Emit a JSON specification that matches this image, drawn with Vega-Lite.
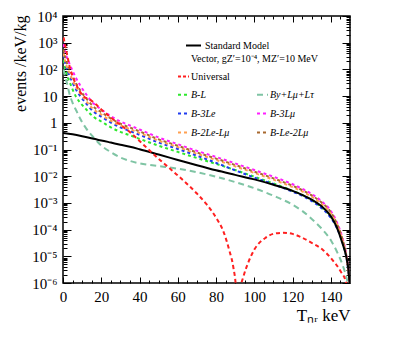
{
  "$schema": "https://vega.github.io/schema/vega-lite/v6.json",
  "width": 287,
  "height": 267,
  "autosize": {"type": "none"},
  "padding": {"left": 63, "top": 16, "right": 49, "bottom": 55},
  "background": "white",
  "config": {
    "view": {"stroke": "black", "strokeWidth": 1.5},
    "font": "Liberation Serif",
    "axis": {"domain": false, "grid": false, "tickColor": "black", "tickWidth": 1, "labelFont": "Liberation Serif", "labelColor": "black", "titleFont": "Liberation Serif", "titleColor": "black", "titleFontWeight": "normal"},
    "legend": {"labelFont": "Liberation Serif", "labelColor": "black", "labelFontSize": 10, "titleFont": "Liberation Serif", "titleColor": "black", "titleFontWeight": "normal", "titleFontSize": 10, "symbolType": "stroke", "symbolStrokeWidth": 2, "labelOffset": 1}
  },
  "datasets": {
    "sm": [
      {"series": "Standard Model", "T": 0, "rate": 0.417},
      {"series": "Standard Model", "T": 5, "rate": 0.372},
      {"series": "Standard Model", "T": 10, "rate": 0.316},
      {"series": "Standard Model", "T": 16, "rate": 0.251},
      {"series": "Standard Model", "T": 20, "rate": 0.219},
      {"series": "Standard Model", "T": 25, "rate": 0.182},
      {"series": "Standard Model", "T": 30, "rate": 0.151},
      {"series": "Standard Model", "T": 35, "rate": 0.126},
      {"series": "Standard Model", "T": 40, "rate": 0.102},
      {"series": "Standard Model", "T": 50, "rate": 0.0646},
      {"series": "Standard Model", "T": 60, "rate": 0.0407},
      {"series": "Standard Model", "T": 70, "rate": 0.0257},
      {"series": "Standard Model", "T": 80, "rate": 0.0166},
      {"series": "Standard Model", "T": 90, "rate": 0.0112},
      {"series": "Standard Model", "T": 100, "rate": 0.00759},
      {"series": "Standard Model", "T": 110, "rate": 0.00479},
      {"series": "Standard Model", "T": 120, "rate": 0.00282},
      {"series": "Standard Model", "T": 125, "rate": 0.002},
      {"series": "Standard Model", "T": 130, "rate": 0.00132},
      {"series": "Standard Model", "T": 135, "rate": 0.000759},
      {"series": "Standard Model", "T": 140, "rate": 0.000316},
      {"series": "Standard Model", "T": 143, "rate": 0.000126},
      {"series": "Standard Model", "T": 146, "rate": 3.16e-5},
      {"series": "Standard Model", "T": 148, "rate": 1e-5},
      {"series": "Standard Model", "T": 149, "rate": 3.98e-6},
      {"series": "Standard Model", "T": 149.8, "rate": 1e-6}
    ],
    "universal": [
      {"series": "Universal", "T": 0.3, "rate": 1580},
      {"series": "Universal", "T": 1, "rate": 891},
      {"series": "Universal", "T": 2, "rate": 398},
      {"series": "Universal", "T": 3.5, "rate": 126},
      {"series": "Universal", "T": 5, "rate": 56.2},
      {"series": "Universal", "T": 7, "rate": 26.3},
      {"series": "Universal", "T": 9, "rate": 14.1},
      {"series": "Universal", "T": 11, "rate": 9.55},
      {"series": "Universal", "T": 13, "rate": 7.94},
      {"series": "Universal", "T": 15, "rate": 6.61},
      {"series": "Universal", "T": 17, "rate": 5.01},
      {"series": "Universal", "T": 20, "rate": 3.16},
      {"series": "Universal", "T": 25, "rate": 1.58},
      {"series": "Universal", "T": 30, "rate": 0.832},
      {"series": "Universal", "T": 35, "rate": 0.447},
      {"series": "Universal", "T": 40, "rate": 0.209},
      {"series": "Universal", "T": 45, "rate": 0.0955},
      {"series": "Universal", "T": 50, "rate": 0.0447},
      {"series": "Universal", "T": 55, "rate": 0.0219},
      {"series": "Universal", "T": 60, "rate": 0.0107},
      {"series": "Universal", "T": 65, "rate": 0.00501},
      {"series": "Universal", "T": 70, "rate": 0.00224},
      {"series": "Universal", "T": 75, "rate": 0.000891},
      {"series": "Universal", "T": 80, "rate": 0.000282},
      {"series": "Universal", "T": 84, "rate": 7.94e-5},
      {"series": "Universal", "T": 87, "rate": 1.58e-5},
      {"series": "Universal", "T": 89, "rate": 3.98e-6},
      {"series": "Universal", "T": 90.5, "rate": 5e-7},
      {"series": "Universal", "T": 91.5, "rate": 1e-8},
      {"series": "Universal", "T": 92.5, "rate": 5e-7},
      {"series": "Universal", "T": 94.3, "rate": 1.74e-6},
      {"series": "Universal", "T": 97, "rate": 6.3e-6},
      {"series": "Universal", "T": 100, "rate": 1.78e-5},
      {"series": "Universal", "T": 106, "rate": 5.01e-5},
      {"series": "Universal", "T": 111, "rate": 7.24e-5},
      {"series": "Universal", "T": 115, "rate": 7.59e-5},
      {"series": "Universal", "T": 120, "rate": 6.92e-5},
      {"series": "Universal", "T": 124, "rate": 5.37e-5},
      {"series": "Universal", "T": 130, "rate": 3.16e-5},
      {"series": "Universal", "T": 136, "rate": 1.7e-5},
      {"series": "Universal", "T": 141, "rate": 7.08e-6},
      {"series": "Universal", "T": 145, "rate": 2.82e-6},
      {"series": "Universal", "T": 148, "rate": 1e-6},
      {"series": "Universal", "T": 149, "rate": 3.2e-7}
    ],
    "bsm": [
      {"series": "B-L", "T": 0.3, "rate": 224}, {"series": "B-L", "T": 1, "rate": 120}, {"series": "B-L", "T": 2, "rate": 63.1}, {"series": "B-L", "T": 3.5, "rate": 33.1}, {"series": "B-L", "T": 5, "rate": 17.8}, {"series": "B-L", "T": 7, "rate": 8.91}, {"series": "B-L", "T": 9, "rate": 5.62}, {"series": "B-L", "T": 12, "rate": 3.24}, {"series": "B-L", "T": 16, "rate": 1.66}, {"series": "B-L", "T": 20, "rate": 1.12}, {"series": "B-L", "T": 25, "rate": 0.676}, {"series": "B-L", "T": 30, "rate": 0.457}, {"series": "B-L", "T": 35, "rate": 0.339}, {"series": "B-L", "T": 40, "rate": 0.251}, {"series": "B-L", "T": 50, "rate": 0.138}, {"series": "B-L", "T": 60, "rate": 0.0813}, {"series": "B-L", "T": 70, "rate": 0.0479}, {"series": "B-L", "T": 80, "rate": 0.0288}, {"series": "B-L", "T": 90, "rate": 0.017}, {"series": "B-L", "T": 100, "rate": 0.00955}, {"series": "B-L", "T": 110, "rate": 0.00537}, {"series": "B-L", "T": 120, "rate": 0.00282}, {"series": "B-L", "T": 125, "rate": 0.002}, {"series": "B-L", "T": 130, "rate": 0.00126}, {"series": "B-L", "T": 135, "rate": 0.000692}, {"series": "B-L", "T": 140, "rate": 0.000295}, {"series": "B-L", "T": 143, "rate": 0.000129}, {"series": "B-L", "T": 146, "rate": 3.63e-5}, {"series": "B-L", "T": 148, "rate": 1.02e-5}, {"series": "B-L", "T": 149, "rate": 3.5e-6}, {"series": "B-L", "T": 149.8, "rate": 1e-6},
      {"series": "By+Lμ+Lτ", "T": 0.3, "rate": 100}, {"series": "By+Lμ+Lτ", "T": 1, "rate": 56.2}, {"series": "By+Lμ+Lτ", "T": 2, "rate": 31.6}, {"series": "By+Lμ+Lτ", "T": 3.5, "rate": 11.2}, {"series": "By+Lμ+Lτ", "T": 5, "rate": 5.62}, {"series": "By+Lμ+Lτ", "T": 7, "rate": 2.82}, {"series": "By+Lμ+Lτ", "T": 9, "rate": 1.41}, {"series": "By+Lμ+Lτ", "T": 12, "rate": 0.631}, {"series": "By+Lμ+Lτ", "T": 16, "rate": 0.282}, {"series": "By+Lμ+Lτ", "T": 20, "rate": 0.141}, {"series": "By+Lμ+Lτ", "T": 25, "rate": 0.0794}, {"series": "By+Lμ+Lτ", "T": 30, "rate": 0.0501}, {"series": "By+Lμ+Lτ", "T": 35, "rate": 0.0372}, {"series": "By+Lμ+Lτ", "T": 40, "rate": 0.0302}, {"series": "By+Lμ+Lτ", "T": 50, "rate": 0.024}, {"series": "By+Lμ+Lτ", "T": 60, "rate": 0.0191}, {"series": "By+Lμ+Lτ", "T": 70, "rate": 0.0141}, {"series": "By+Lμ+Lτ", "T": 80, "rate": 0.00955}, {"series": "By+Lμ+Lτ", "T": 90, "rate": 0.00603}, {"series": "By+Lμ+Lτ", "T": 100, "rate": 0.00355}, {"series": "By+Lμ+Lτ", "T": 110, "rate": 0.00186}, {"series": "By+Lμ+Lτ", "T": 120, "rate": 0.000851}, {"series": "By+Lμ+Lτ", "T": 125, "rate": 0.000501}, {"series": "By+Lμ+Lτ", "T": 130, "rate": 0.000251}, {"series": "By+Lμ+Lτ", "T": 135, "rate": 0.000112}, {"series": "By+Lμ+Lτ", "T": 140, "rate": 3.98e-5}, {"series": "By+Lμ+Lτ", "T": 143, "rate": 1.58e-5}, {"series": "By+Lμ+Lτ", "T": 146, "rate": 5.01e-6}, {"series": "By+Lμ+Lτ", "T": 148, "rate": 1.78e-6}, {"series": "By+Lμ+Lτ", "T": 149.5, "rate": 6.3e-7},
      {"series": "B-3Le", "T": 0.3, "rate": 355}, {"series": "B-3Le", "T": 1, "rate": 191}, {"series": "B-3Le", "T": 2, "rate": 105}, {"series": "B-3Le", "T": 3.5, "rate": 56.2}, {"series": "B-3Le", "T": 5, "rate": 31.6}, {"series": "B-3Le", "T": 7, "rate": 16.6}, {"series": "B-3Le", "T": 9, "rate": 10}, {"series": "B-3Le", "T": 12, "rate": 5.37}, {"series": "B-3Le", "T": 16, "rate": 2.63}, {"series": "B-3Le", "T": 20, "rate": 1.7}, {"series": "B-3Le", "T": 25, "rate": 1.02}, {"series": "B-3Le", "T": 30, "rate": 0.676}, {"series": "B-3Le", "T": 35, "rate": 0.49}, {"series": "B-3Le", "T": 40, "rate": 0.355}, {"series": "B-3Le", "T": 50, "rate": 0.182}, {"series": "B-3Le", "T": 60, "rate": 0.105}, {"series": "B-3Le", "T": 70, "rate": 0.0589}, {"series": "B-3Le", "T": 80, "rate": 0.0316}, {"series": "B-3Le", "T": 90, "rate": 0.0166}, {"series": "B-3Le", "T": 100, "rate": 0.00891}, {"series": "B-3Le", "T": 110, "rate": 0.00501}, {"series": "B-3Le", "T": 120, "rate": 0.00263}, {"series": "B-3Le", "T": 125, "rate": 0.00186}, {"series": "B-3Le", "T": 130, "rate": 0.00117}, {"series": "B-3Le", "T": 135, "rate": 0.000646}, {"series": "B-3Le", "T": 140, "rate": 0.000275}, {"series": "B-3Le", "T": 143, "rate": 0.00012}, {"series": "B-3Le", "T": 146, "rate": 3.47e-5}, {"series": "B-3Le", "T": 148, "rate": 1e-5}, {"series": "B-3Le", "T": 149, "rate": 3.4e-6}, {"series": "B-3Le", "T": 149.8, "rate": 1e-6},
      {"series": "B-3Lμ", "T": 0.3, "rate": 891}, {"series": "B-3Lμ", "T": 1, "rate": 501}, {"series": "B-3Lμ", "T": 2, "rate": 282}, {"series": "B-3Lμ", "T": 3.5, "rate": 158}, {"series": "B-3Lμ", "T": 5, "rate": 89.1}, {"series": "B-3Lμ", "T": 7, "rate": 44.7}, {"series": "B-3Lμ", "T": 9, "rate": 25.1}, {"series": "B-3Lμ", "T": 12, "rate": 12}, {"series": "B-3Lμ", "T": 16, "rate": 5.25}, {"series": "B-3Lμ", "T": 20, "rate": 3.16}, {"series": "B-3Lμ", "T": 25, "rate": 1.78}, {"series": "B-3Lμ", "T": 30, "rate": 1.12}, {"series": "B-3Lμ", "T": 35, "rate": 0.794}, {"series": "B-3Lμ", "T": 40, "rate": 0.562}, {"series": "B-3Lμ", "T": 50, "rate": 0.282}, {"series": "B-3Lμ", "T": 60, "rate": 0.158}, {"series": "B-3Lμ", "T": 70, "rate": 0.0891}, {"series": "B-3Lμ", "T": 80, "rate": 0.0525}, {"series": "B-3Lμ", "T": 90, "rate": 0.0302}, {"series": "B-3Lμ", "T": 100, "rate": 0.017}, {"series": "B-3Lμ", "T": 110, "rate": 0.00955}, {"series": "B-3Lμ", "T": 120, "rate": 0.00501}, {"series": "B-3Lμ", "T": 125, "rate": 0.00339}, {"series": "B-3Lμ", "T": 130, "rate": 0.00214}, {"series": "B-3Lμ", "T": 135, "rate": 0.00117}, {"series": "B-3Lμ", "T": 140, "rate": 0.0005}, {"series": "B-3Lμ", "T": 143, "rate": 0.0002}, {"series": "B-3Lμ", "T": 146, "rate": 5e-5}, {"series": "B-3Lμ", "T": 148, "rate": 1.26e-5}, {"series": "B-3Lμ", "T": 149, "rate": 4e-6}, {"series": "B-3Lμ", "T": 149.8, "rate": 1e-6},
      {"series": "B-2Le-Lμ", "T": 0.3, "rate": 398}, {"series": "B-2Le-Lμ", "T": 1, "rate": 224}, {"series": "B-2Le-Lμ", "T": 2, "rate": 126}, {"series": "B-2Le-Lμ", "T": 3.5, "rate": 70.8}, {"series": "B-2Le-Lμ", "T": 5, "rate": 39.8}, {"series": "B-2Le-Lμ", "T": 7, "rate": 20.9}, {"series": "B-2Le-Lμ", "T": 9, "rate": 12.6}, {"series": "B-2Le-Lμ", "T": 12, "rate": 6.61}, {"series": "B-2Le-Lμ", "T": 16, "rate": 3.16}, {"series": "B-2Le-Lμ", "T": 20, "rate": 2.04}, {"series": "B-2Le-Lμ", "T": 25, "rate": 1.2}, {"series": "B-2Le-Lμ", "T": 30, "rate": 0.794}, {"series": "B-2Le-Lμ", "T": 35, "rate": 0.575}, {"series": "B-2Le-Lμ", "T": 40, "rate": 0.417}, {"series": "B-2Le-Lμ", "T": 50, "rate": 0.214}, {"series": "B-2Le-Lμ", "T": 60, "rate": 0.123}, {"series": "B-2Le-Lμ", "T": 70, "rate": 0.0692}, {"series": "B-2Le-Lμ", "T": 80, "rate": 0.0407}, {"series": "B-2Le-Lμ", "T": 90, "rate": 0.0234}, {"series": "B-2Le-Lμ", "T": 100, "rate": 0.0132}, {"series": "B-2Le-Lμ", "T": 110, "rate": 0.00741}, {"series": "B-2Le-Lμ", "T": 120, "rate": 0.00389}, {"series": "B-2Le-Lμ", "T": 125, "rate": 0.00269}, {"series": "B-2Le-Lμ", "T": 130, "rate": 0.0017}, {"series": "B-2Le-Lμ", "T": 135, "rate": 0.000933}, {"series": "B-2Le-Lμ", "T": 140, "rate": 0.000398}, {"series": "B-2Le-Lμ", "T": 143, "rate": 0.000162}, {"series": "B-2Le-Lμ", "T": 146, "rate": 4.17e-5}, {"series": "B-2Le-Lμ", "T": 148, "rate": 1.12e-5}, {"series": "B-2Le-Lμ", "T": 149, "rate": 3.6e-6}, {"series": "B-2Le-Lμ", "T": 149.8, "rate": 1e-6},
      {"series": "B-Le-2Lμ", "T": 0.3, "rate": 562}, {"series": "B-Le-2Lμ", "T": 1, "rate": 316}, {"series": "B-Le-2Lμ", "T": 2, "rate": 178}, {"series": "B-Le-2Lμ", "T": 3.5, "rate": 100}, {"series": "B-Le-2Lμ", "T": 5, "rate": 56.2}, {"series": "B-Le-2Lμ", "T": 7, "rate": 28.2}, {"series": "B-Le-2Lμ", "T": 9, "rate": 16.6}, {"series": "B-Le-2Lμ", "T": 12, "rate": 8.51}, {"series": "B-Le-2Lμ", "T": 16, "rate": 3.98}, {"series": "B-Le-2Lμ", "T": 20, "rate": 2.51}, {"series": "B-Le-2Lμ", "T": 25, "rate": 1.45}, {"series": "B-Le-2Lμ", "T": 30, "rate": 0.933}, {"series": "B-Le-2Lμ", "T": 35, "rate": 0.661}, {"series": "B-Le-2Lμ", "T": 40, "rate": 0.479}, {"series": "B-Le-2Lμ", "T": 50, "rate": 0.24}, {"series": "B-Le-2Lμ", "T": 60, "rate": 0.138}, {"series": "B-Le-2Lμ", "T": 70, "rate": 0.0776}, {"series": "B-Le-2Lμ", "T": 80, "rate": 0.0457}, {"series": "B-Le-2Lμ", "T": 90, "rate": 0.0263}, {"series": "B-Le-2Lμ", "T": 100, "rate": 0.0148}, {"series": "B-Le-2Lμ", "T": 110, "rate": 0.00832}, {"series": "B-Le-2Lμ", "T": 120, "rate": 0.00437}, {"series": "B-Le-2Lμ", "T": 125, "rate": 0.00302}, {"series": "B-Le-2Lμ", "T": 130, "rate": 0.00191}, {"series": "B-Le-2Lμ", "T": 135, "rate": 0.00105}, {"series": "B-Le-2Lμ", "T": 140, "rate": 0.000447}, {"series": "B-Le-2Lμ", "T": 143, "rate": 0.000178}, {"series": "B-Le-2Lμ", "T": 146, "rate": 4.57e-5}, {"series": "B-Le-2Lμ", "T": 148, "rate": 1.17e-5}, {"series": "B-Le-2Lμ", "T": 149, "rate": 3.8e-6}, {"series": "B-Le-2Lμ", "T": 149.8, "rate": 1e-6}
    ]
  },
  "layer": [
    {
      "data": {"name": "bsm"},
      "mark": {"type": "line", "strokeWidth": 2, "clip": true, "interpolate": "monotone"},
      "encoding": {
        "x": {"field": "T", "type": "quantitative", "scale": {"domain": [0, 150], "nice": false, "zero": false},
              "axis": {"orient": "top", "values": [0, 20, 40, 60, 80, 100, 120, 140], "labels": false, "tickSize": -6, "title": null}},
        "y": {"field": "rate", "type": "quantitative", "scale": {"type": "log", "domain": [1e-6, 10000], "nice": false},
              "axis": {"orient": "right", "values": [1e-6, 1e-5, 0.0001, 0.001, 0.01, 0.1, 1, 10, 100, 1000, 10000], "labels": false, "tickSize": -8, "title": null}},
        "color": {"field": "series", "type": "nominal",
                  "scale": {"domain": ["B-L", "B-3Le", "B-2Le-Lμ", "By+Lμ+Lτ", "B-3Lμ", "B-Le-2Lμ"], "range": ["#2de82d", "#1f3bf0", "#ffa050", "#7fc4a4", "#ff1fff", "#a8692f"]},
                  "legend": {"orient": "none", "legendX": 114, "legendY": 72, "columns": 2, "columnPadding": 23, "rowPadding": 7, "title": null, "labelFontStyle": "italic", "symbolSize": 121, "symbolDash": [3, 2]}},
        "strokeDash": {"field": "series", "type": "nominal",
                  "scale": {"domain": ["B-L", "B-3Le", "B-2Le-Lμ", "By+Lμ+Lτ", "B-3Lμ", "B-Le-2Lμ"], "range": [[3, 3], [3, 3], [3, 3], [6, 4], [3, 3], [3, 3]]},
                  "legend": null}
      }
    },
    {
      "data": {"name": "sm"},
      "mark": {"type": "line", "strokeWidth": 2, "clip": true, "interpolate": "monotone"},
      "encoding": {
        "x": {"field": "T", "type": "quantitative", "scale": {"domain": [0, 150], "nice": false, "zero": false},
              "axis": {"orient": "bottom", "values": [0, 20, 40, 60, 80, 100, 120, 140], "tickSize": -6, "labelPadding": 12, "labelFontSize": 15, "labelFlush": false, "labelAngle": 0,
                       "title": "Tₙᵣ keV", "titleFontSize": 17, "titleAnchor": "end", "titleAlign": "right", "titleX": 287, "titleY": 37, "titleBaseline": "alphabetic"}},
        "y": {"field": "rate", "type": "quantitative", "scale": {"type": "log", "domain": [1e-6, 10000], "nice": false},
              "axis": {"orient": "left", "values": [1e-6, 1e-5, 0.0001, 0.001, 0.01, 0.1, 1, 10, 100, 1000, 10000], "tickSize": -8, "labelPadding": 14, "labelFontSize": 15, "labelFlush": false,
                       "labelExpr": "datum.value > 5000 ? '10⁴' : datum.value > 500 ? '10³' : datum.value > 50 ? '10²' : datum.value > 5 ? '10' : datum.value > 0.5 ? '1' : datum.value > 0.05 ? '10⁻¹' : datum.value > 0.005 ? '10⁻²' : datum.value > 0.0005 ? '10⁻³' : datum.value > 0.00005 ? '10⁻⁴' : datum.value > 0.000005 ? '10⁻⁵' : '10⁻⁶'",
                       "title": "events /keV/kg", "titleFontSize": 16, "titleAnchor": "end", "titleAlign": "right", "titleAngle": -90, "titleX": -43, "titleY": -1, "titleBaseline": "middle"}},
        "color": {"field": "series", "type": "nominal", "scale": {"domain": ["Standard Model"], "range": ["#000000"]},
                  "legend": {"orient": "none", "legendX": 122, "legendY": 21, "title": null, "symbolSize": 225, "symbolDash": [1, 0], "labelOffset": 3}}
      }
    },
    {
      "data": {"name": "universal"},
      "mark": {"type": "line", "strokeWidth": 2, "clip": true, "interpolate": "monotone", "strokeDash": [4, 3]},
      "encoding": {
        "x": {"field": "T", "type": "quantitative", "scale": {"domain": [0, 150], "nice": false, "zero": false},
              "axis": {"orient": "bottom", "values": [5, 10, 15, 25, 30, 35, 45, 50, 55, 65, 70, 75, 85, 90, 95, 105, 110, 115, 125, 130, 135, 145], "labels": false, "tickSize": -3, "title": null}},
        "y": {"field": "rate", "type": "quantitative", "scale": {"type": "log", "domain": [1e-6, 10000], "nice": false},
              "axis": {"orient": "left", "values": [2e-6, 3e-6, 4e-6, 5e-6, 6e-6, 7e-6, 8e-6, 9e-6, 2e-5, 3e-5, 4e-5, 5e-5, 6e-5, 7e-5, 8e-5, 9e-5, 0.0002, 0.0003, 0.0004, 0.0005, 0.0006, 0.0007, 0.0008, 0.0009, 0.002, 0.003, 0.004, 0.005, 0.006, 0.007, 0.008, 0.009, 0.02, 0.03, 0.04, 0.05, 0.06, 0.07, 0.08, 0.09, 0.2, 0.3, 0.4, 0.5, 0.6, 0.7, 0.8, 0.9, 2, 3, 4, 5, 6, 7, 8, 9, 20, 30, 40, 50, 60, 70, 80, 90, 200, 300, 400, 500, 600, 700, 800, 900, 2000, 3000, 4000, 5000, 6000, 7000, 8000, 9000], "labels": false, "tickSize": -4, "title": null}},
        "color": {"field": "series", "type": "nominal", "scale": {"domain": ["Universal"], "range": ["#ff2020"]},
                  "legend": {"orient": "none", "legendX": 128, "legendY": 38, "title": "Vector, gZ′=10⁻⁴, MZ′=10 MeV", "titlePadding": 6, "symbolSize": 121, "symbolDash": [3, 2], "symbolOffset": -14}}
      }
    },
    {
      "mark": {"type": "text", "text": "Ar", "align": "left", "baseline": "middle", "fontSize": 13, "font": "Liberation Serif", "color": "black"},
      "encoding": {
        "x": {"datum": 5, "type": "quantitative", "scale": {"domain": [0, 150], "nice": false, "zero": false},
              "axis": {"orient": "top", "values": [5, 10, 15, 25, 30, 35, 45, 50, 55, 65, 70, 75, 85, 90, 95, 105, 110, 115, 125, 130, 135, 145], "labels": false, "tickSize": -3, "title": null}},
        "y": {"datum": 3.5e-6, "type": "quantitative", "scale": {"type": "log", "domain": [1e-6, 10000], "nice": false},
              "axis": {"orient": "right", "values": [2e-6, 3e-6, 4e-6, 5e-6, 6e-6, 7e-6, 8e-6, 9e-6, 2e-5, 3e-5, 4e-5, 5e-5, 6e-5, 7e-5, 8e-5, 9e-5, 0.0002, 0.0003, 0.0004, 0.0005, 0.0006, 0.0007, 0.0008, 0.0009, 0.002, 0.003, 0.004, 0.005, 0.006, 0.007, 0.008, 0.009, 0.02, 0.03, 0.04, 0.05, 0.06, 0.07, 0.08, 0.09, 0.2, 0.3, 0.4, 0.5, 0.6, 0.7, 0.8, 0.9, 2, 3, 4, 5, 6, 7, 8, 9, 20, 30, 40, 50, 60, 70, 80, 90, 200, 300, 400, 500, 600, 700, 800, 900, 2000, 3000, 4000, 5000, 6000, 7000, 8000, 9000], "labels": false, "tickSize": -4, "title": null}}
      }
    }
  ],
  "resolve": {
    "scale": {"color": "independent", "strokeDash": "independent"},
    "axis": {"x": "independent", "y": "independent"}
  }
}
